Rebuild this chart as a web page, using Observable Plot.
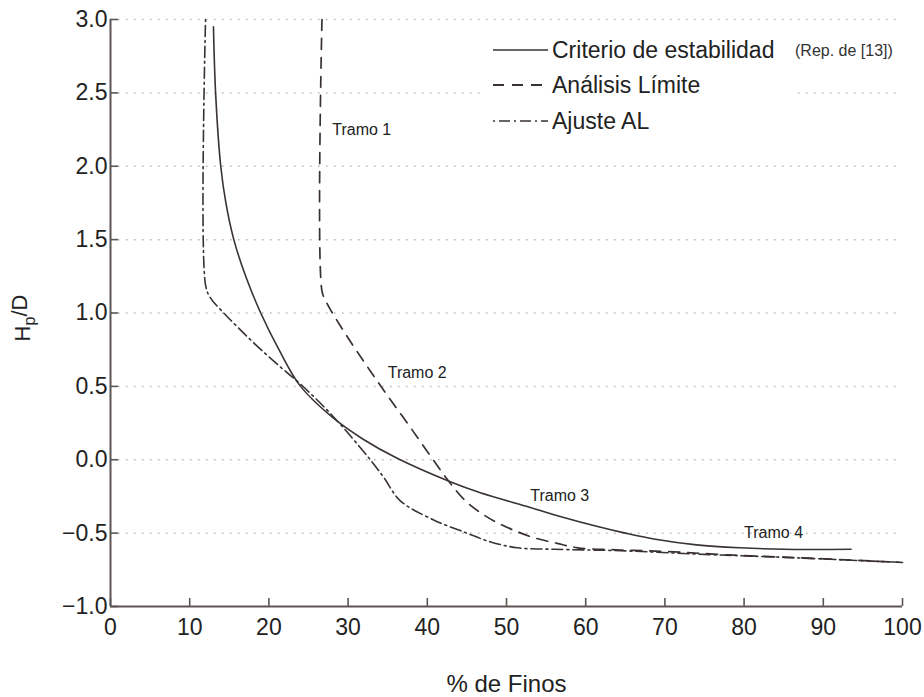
<!DOCTYPE html>
<html>
<head>
<meta charset="utf-8">
<script src="https://cdn.jsdelivr.net/npm/d3@7"></script>
<script src="https://cdn.jsdelivr.net/npm/@observablehq/plot@0.6"></script>
<style>
  html, body { margin: 0; padding: 0; background: #fff; }
  #wrap { position: relative; width: 924px; height: 697px; }
  #legend { position: absolute; left: 0; top: 0; pointer-events: none; }
</style>
</head>
<body>
<div id="wrap"></div>
<script>
// ---------- data ----------
const seriesNames = ["Criterio de estabilidad", "Análisis Límite", "Ajuste AL"];
const legendNote = "(Rep. de [13])";

const criterioX = [13.0, 13.27, 13.92, 14.57, 15.57, 17.07, 18.97, 21.27, 24.0, 28.0, 31.9, 36.2, 42.9, 46.7, 53.0, 57.0, 61.5, 65.0, 68.6, 74.0, 79.5, 85.0, 93.5];
const criterioY = [2.95, 2.5, 2.0, 1.75, 1.5, 1.25, 1.0, 0.75, 0.5, 0.29, 0.14, 0.01, -0.15, -0.225, -0.325, -0.39, -0.455, -0.50, -0.54, -0.58, -0.60, -0.61, -0.61];

const analisisX = [26.7, 26.7, 27.2, 27.8, 30.0, 33.7, 38.0, 42.9, 45.0, 46.7, 48.5, 50.9, 53.4, 56.4, 59.0, 64.4, 70.0, 78.7, 90.0, 100.0];
const analisisY = [3.0, 1.15, 1.08, 1.02, 0.83, 0.535, 0.21, -0.16, -0.29, -0.36, -0.42, -0.48, -0.53, -0.57, -0.60, -0.615, -0.625, -0.65, -0.675, -0.70];

const ajusteX = [12.0, 12.0, 12.6, 14.3, 16.4, 18.9, 21.5, 24.0, 28.2, 32.8, 34.5, 36.6, 40.8, 45.0, 48.0, 51.4, 56.0, 64.4, 75.0, 85.0, 100.0];
const ajusteY = [3.0, 1.19, 1.105, 1.0, 0.885, 0.755, 0.63, 0.515, 0.29, 0.0, -0.12, -0.28, -0.41, -0.50, -0.56, -0.60, -0.61, -0.62, -0.645, -0.665, -0.70];

const tramoText = ["Tramo 1", "Tramo 2", "Tramo 3", "Tramo 4"];
const tramoX = [28.0, 35.0, 53.0, 80.0];
const tramoY = [2.25, 0.595, -0.245, -0.50];

const xTicks = [0, 10, 20, 30, 40, 50, 60, 70, 80, 90, 100];
const yTicks = [-1.0, -0.5, 0.0, 0.5, 1.0, 1.5, 2.0, 2.5, 3.0];
const gridYValues = [-0.5, 0.0, 0.5, 1.0, 1.5, 2.0, 2.5, 3.0];
const xLabel = "% de Finos";
const yLabel = "Hp/D";

// ---------- build ----------
const toRows = (xs, ys) => xs.map((x, i) => ({x, y: ys[i]}));
const criterio = toRows(criterioX, criterioY);
const analisis = toRows(analisisX, analisisY);
const ajuste = toRows(ajusteX, ajusteY);
const tramos = tramoText.map((t, i) => ({t, x: tramoX[i], y: tramoY[i]}));

const lineColor = "#3a3232";
const axisColor = "#5e5555";
const dashes = ["none", "11,8", "2,4,11,4"];

const W = 924, H = 697;
const mL = 110, mR = 22, mT = 19, mB = 91;

const chart = Plot.plot({
  width: W, height: H,
  marginLeft: mL, marginRight: mR, marginTop: mT, marginBottom: mB,
  x: {domain: [0, 100]},
  y: {domain: [-1, 3]},
  style: {fontFamily: "'Liberation Sans', Arial, Helvetica, sans-serif", color: "#222", background: "white", overflow: "visible"},
  marks: [
    Plot.ruleY(gridYValues, {stroke: "#b5b5b5", strokeWidth: 1.5, strokeDasharray: "1.5,6.5"}),
    Plot.line(ajuste, {x: "x", y: "y", stroke: lineColor, strokeWidth: 1.6, strokeDasharray: dashes[2], curve: "catmull-rom"}),
    Plot.line(analisis, {x: "x", y: "y", stroke: lineColor, strokeWidth: 1.7, strokeDasharray: dashes[1], curve: "catmull-rom"}),
    Plot.line(criterio, {x: "x", y: "y", stroke: lineColor, strokeWidth: 1.6, curve: "catmull-rom"}),
    Plot.text(tramos, {x: "x", y: "y", text: "t", textAnchor: "start", fontSize: 16, fill: "#222"}),
    Plot.ruleX([0], {stroke: axisColor, strokeWidth: 2}),
    Plot.ruleY([-1], {stroke: axisColor, strokeWidth: 2}),
    Plot.axisX({ticks: xTicks, tickSize: -8, tickPadding: 20, tickFormat: d3.format("d"), fontSize: 23, stroke: axisColor, strokeWidth: 1.6, label: null}),
    Plot.axisY({ticks: yTicks, tickSize: -8, tickPadding: 11, tickFormat: d3.format(".1f"), fontSize: 23, stroke: axisColor, strokeWidth: 1.6, label: null}),
    Plot.text([xLabel], {frameAnchor: "bottom", dy: 85, fontSize: 24, fill: "#222"}),
    Plot.text([yLabel], {frameAnchor: "left", textAnchor: "middle", dx: -88, dy: 5, rotate: -90, fontSize: 22, fill: "#222"})
  ]
});

// subscript p in y label
d3.select(chart).selectAll("text").each(function() {
  if (this.textContent === yLabel) {
    const t = d3.select(this);
    t.text(null);
    t.append("tspan").text(yLabel[0]);
    t.append("tspan").attr("dy", "0.35em").attr("font-size", "16").text(yLabel[1]);
    t.append("tspan").attr("dy", "-0.35em").text(yLabel.slice(2));
  }
});

const wrap = document.getElementById("wrap");
wrap.appendChild(chart);

// ---------- legend ----------
const lg = d3.select(wrap).append("svg")
  .attr("id", "legend").attr("width", W).attr("height", H)
  .style("font-family", "'Liberation Sans', Arial, Helvetica, sans-serif");
lg.append("rect").attr("x", 484).attr("y", 32).attr("width", 311).attr("height", 108).attr("fill", "white");
const rowY = [50, 85, 121];
seriesNames.forEach((name, i) => {
  lg.append("line").attr("x1", 493).attr("x2", 548).attr("y1", rowY[i]).attr("y2", rowY[i])
    .attr("stroke", lineColor).attr("stroke-width", i === 1 ? 2 : 1.6)
    .attr("stroke-dasharray", dashes[i]);
  lg.append("text").attr("x", 552).attr("y", rowY[i]).attr("dy", "0.35em")
    .attr("font-size", 23).attr("fill", "#222").text(name);
});
lg.append("text").attr("x", 795).attr("y", rowY[0]).attr("dy", "0.35em")
  .attr("font-size", 16).attr("fill", "#333").text(legendNote);
</script>
</body>
</html>
